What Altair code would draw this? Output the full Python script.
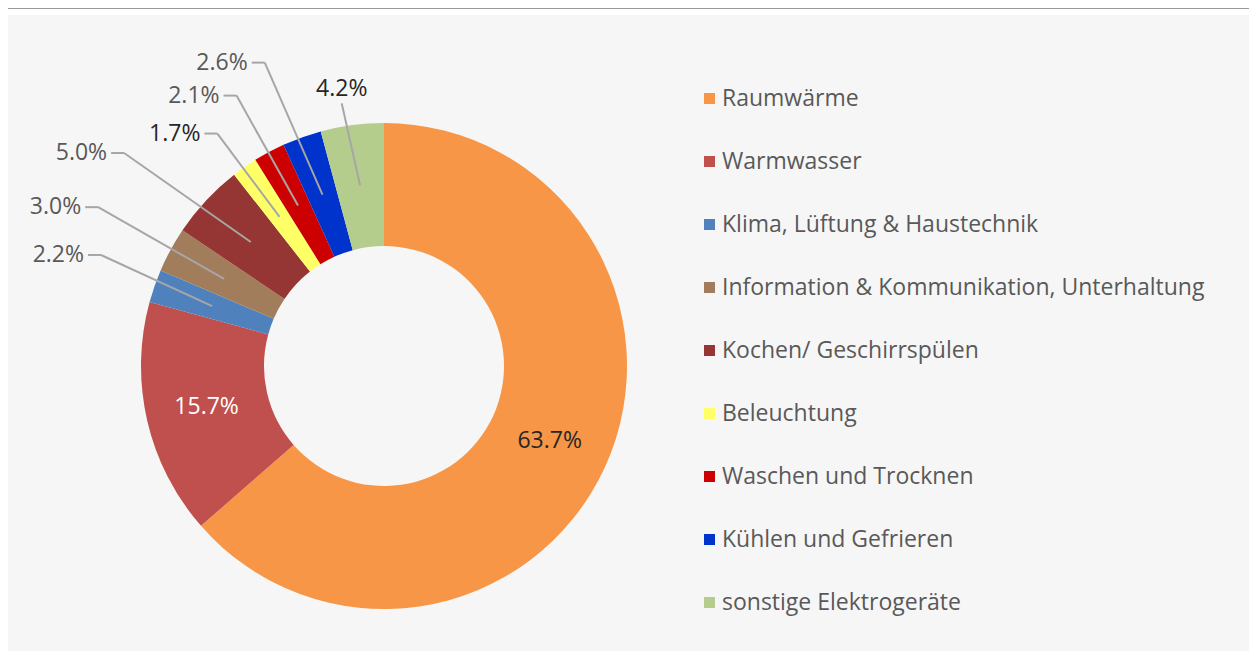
import altair as alt
import pandas as pd

categories = [
    "Raumwärme",
    "Warmwasser",
    "Klima, Lüftung & Haustechnik",
    "Information & Kommunikation, Unterhaltung",
    "Kochen/ Geschirrspülen",
    "Beleuchtung",
    "Waschen und Trocknen",
    "Kühlen und Gefrieren",
    "sonstige Elektrogeräte",
]
values = [63.7, 15.7, 2.2, 3.0, 5.0, 1.7, 2.1, 2.6, 4.2]
labels = ["63.7%", "15.7%", "2.2%", "3.0%", "5.0%", "1.7%", "2.1%", "2.6%", "4.2%"]

# styles
colors = ["#F79646", "#C0504D", "#4F81BD", "#A27D5C", "#963634",
          "#FFFF66", "#CC0000", "#0033CC", "#B5CD8C"]
label_colors = ["#262626", "#FFFFFF", "#595959", "#595959", "#595959",
                "#262626", "#595959", "#595959", "#262626"]
# layout of the outside labels (as dragged in the original):
# distance of the leader-line elbow from the centre (0 = label inside the slice)
label_dist = [0, 0, 304, 327, 336, 286, 308, 326, 266]
# angular nudge of the elbow from the slice's mid angle, in degrees
label_nudge = [0, 0, 2.2, 0.5, -3.6, -0.6, -0.4, -1.7, -1.6]

W, H = 1241, 643
CX, CY = 376, 358
R_OUT, R_IN = 243, 120
R_MID = 182
SEG = 13
FONT = "Open Sans"
FS = 23

df = pd.DataFrame({
    "cat": categories,
    "value": values,
    "label": labels,
    "order": list(range(len(categories))),
    "lcolor": label_colors,
    "ldist": label_dist,
    "lnudge": label_nudge,
})

base = alt.Chart(df).transform_joinaggregate(
    total="sum(value)"
).transform_window(
    cum="sum(value)", sort=[alt.SortField("order")], frame=[None, 0]
).transform_calculate(
    mid="(datum.cum - datum.value/2) / datum.total * 2 * PI",
).transform_calculate(
    la="datum.mid + datum.lnudge * PI / 180",
).transform_calculate(
    ix=f"{CX} + {R_MID} * sin(datum.mid)",
    iy=f"{CY} - {R_MID} * cos(datum.mid)",
    lx=f"{CX} + datum.ldist * sin(datum.la)",
    ly=f"{CY} - datum.ldist * cos(datum.la)",
)

arcs = alt.Chart(df).mark_arc(outerRadius=R_OUT, innerRadius=R_IN, stroke=None).encode(
    theta=alt.Theta("value:Q", stack=True),
    order=alt.Order("order:Q"),
    color=alt.Color(
        "cat:N",
        scale=alt.Scale(domain=categories, range=colors),
        legend=alt.Legend(
            title=None, orient="none", legendX=690, legendY=79,
            symbolType="square", symbolSize=121, symbolStrokeWidth=0,
            labelFont=FONT, labelFontSize=FS, labelColor="#595959",
            rowPadding=39, labelOffset=1, labelLimit=600,
        ),
    ),
    x=alt.value(CX),
    y=alt.value(CY),
)

inner = base.transform_filter("datum.ldist == 0").mark_text(
    font=FONT, fontSize=FS, align="center", baseline="middle"
).encode(
    x=alt.X("ix:Q", scale=None),
    y=alt.Y("iy:Q", scale=None),
    text="label:N",
    color=alt.Color("lcolor:N", scale=None),
)

side = base.transform_filter("datum.ldist > 0 && datum.mid < 6.05")
top = base.transform_filter("datum.ldist > 0 && datum.mid >= 6.05")

line_col = "#A6A6A6"

side_diag = side.mark_rule(color=line_col, strokeWidth=2).encode(
    x=alt.X("lx:Q", scale=None), y=alt.Y("ly:Q", scale=None),
    x2="ix:Q", y2="iy:Q",
)
side_h = side.transform_calculate(hx=f"datum.lx - {SEG}").mark_rule(
    color=line_col, strokeWidth=2
).encode(
    x=alt.X("hx:Q", scale=None), y=alt.Y("ly:Q", scale=None),
    x2="lx:Q", y2="ly:Q",
)
side_text = side.transform_calculate(tx=f"datum.lx - {SEG} - 4").mark_text(
    font=FONT, fontSize=FS, align="right", baseline="middle"
).encode(
    x=alt.X("tx:Q", scale=None), y=alt.Y("ly:Q", scale=None),
    text="label:N",
    color=alt.Color("lcolor:N", scale=None),
)

top_line = top.mark_rule(color=line_col, strokeWidth=2).encode(
    x=alt.X("lx:Q", scale=None), y=alt.Y("ly:Q", scale=None),
    x2="ix:Q", y2="iy:Q",
)
top_text = top.transform_calculate(ty="datum.ly - 2").mark_text(
    font=FONT, fontSize=FS, align="center", baseline="bottom"
).encode(
    x=alt.X("lx:Q", scale=None), y=alt.Y("ty:Q", scale=None),
    text="label:N",
    color=alt.Color("lcolor:N", scale=None),
)

topline = alt.Chart(df).mark_rule(color="#9A9A9A", strokeWidth=2).encode(
    x=alt.value(0), x2=alt.value(W), y=alt.value(0)
)
whiteband = alt.Chart(df).mark_rule(color="#FFFFFF", strokeWidth=5).encode(
    x=alt.value(0), x2=alt.value(W), y=alt.value(4)
)

chart = alt.layer(
    whiteband, topline, arcs, inner, side_diag, side_h, side_text, top_line, top_text
).properties(
    width=W, height=H, padding=0, autosize=alt.AutoSizeParams(type="none"),
    background="#F6F6F6",
).configure_view(stroke=None)

chart.save("out.html", embed_options={"renderer": "svg", "actions": False})
